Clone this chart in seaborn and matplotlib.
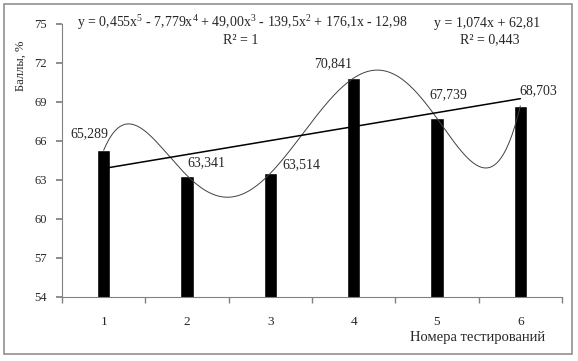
import numpy as np
import pandas as pd
import matplotlib
matplotlib.use("Agg")
import matplotlib.pyplot as plt
import seaborn as sns
from matplotlib.patches import Rectangle

# data
tests = ["1", "2", "3", "4", "5", "6"]
scores = [65.289, 63.341, 63.514, 70.841, 67.739, 68.703]
score_labels = ["65,289", "63,341", "63,514", "70,841", "67,739", "68,703"]
y_ticks = [54, 57, 60, 63, 66, 69, 72, 75]
poly_text = ("y = 0,455x$^5$ - 7,779x$^4$ + 49,00x$^3$ - 139,5x$^2$"
             " + 176,1x - 12,98")
poly_r2 = "R² = 1"
lin_text = "y = 1,074x + 62,81"
lin_r2 = "R² = 0,443"

# label offsets (points) as placed in the original
label_offsets = [(-10, 12), (14, 9), (22, 6), (-15, 10), (8, 17), (13, 11)]

sns.set_theme(style="white")
plt.rcParams["font.family"] = ["Liberation Serif", "DejaVu Serif"]
plt.rcParams["mathtext.fontset"] = "custom"
plt.rcParams["mathtext.rm"] = "Liberation Serif"
plt.rcParams["mathtext.it"] = "Liberation Serif"
plt.rcParams["mathtext.default"] = "rm"

df = pd.DataFrame({"test": tests, "score": scores})

fig = plt.figure(figsize=(5.78, 3.61), dpi=100)
ax = fig.add_axes([62 / 578, 1 - 297 / 361, 500 / 578, 273 / 361])

sns.barplot(data=df, x="test", y="score", color="black", width=0.16,
            saturation=1, ax=ax)

# trendlines fitted from the same data
xs = np.arange(1, len(scores) + 1)
poly = np.polyfit(xs, scores, 5)
lin = np.polyfit(xs, scores, 1)
xf = np.linspace(1, 6, 300)
ax.plot(xf - 1, np.polyval(poly, xf), color="#404040", lw=0.7, zorder=3)
ax.plot(xs - 1, np.polyval(lin, xs), color="black", lw=1.1, zorder=3)

for i, (v, lab) in enumerate(zip(scores, score_labels)):
    dx, dy = label_offsets[i]
    ax.annotate(lab, (i, v), xytext=(dx, dy), textcoords="offset points",
                ha="center", va="center", fontsize=10)

ax.set_ylim(54, 75)
ax.set_xlim(-0.5, 5.5)
ax.set_yticks(y_ticks)
ax.set_yticklabels([str(t) for t in y_ticks], fontsize=9)
ax.set_xticks(range(len(tests)))
ax.set_xticklabels(tests, fontsize=9.5)
ax.set_xticks(np.arange(-0.5, 6, 1), minor=True)
ax.tick_params(axis="x", which="major", length=0, pad=14)
ax.tick_params(axis="x", which="minor", length=4, color="#808080",
               direction="out", bottom=True)
ax.tick_params(axis="y", length=4, color="#808080", direction="out",
               left=True, pad=7)
ax.set_xlabel("")
ax.set_ylabel("")
for s in ["top", "right"]:
    ax.spines[s].set_visible(False)
for s in ["left", "bottom"]:
    ax.spines[s].set_color("#808080")
    ax.spines[s].set_linewidth(0.8)

fig.text(478 / 578, 1 - 338 / 361, "Номера тестирований", ha="center",
         va="center", fontsize=10.5)
fig.text(21 / 578, 1 - 66 / 361, "Баллы, %", ha="center", va="center",
         rotation=90, fontsize=9)

fig.text(242 / 578, 1 - 23 / 361, poly_text, ha="center", va="center",
         fontsize=10)
fig.text(241 / 578, 1 - 40 / 361, poly_r2, ha="center", va="center",
         fontsize=10)
fig.text(487 / 578, 1 - 23 / 361, lin_text, ha="center", va="center",
         fontsize=10)
fig.text(490 / 578, 1 - 40 / 361, lin_r2, ha="center", va="center",
         fontsize=10)

# outer chart border
fig.patches.append(Rectangle((4 / 578, 1 - 354 / 361), 568 / 578, 350 / 361,
                             transform=fig.transFigure, fill=False,
                             edgecolor="#909090", lw=1.2))

fig.savefig("out.png", dpi=100)
